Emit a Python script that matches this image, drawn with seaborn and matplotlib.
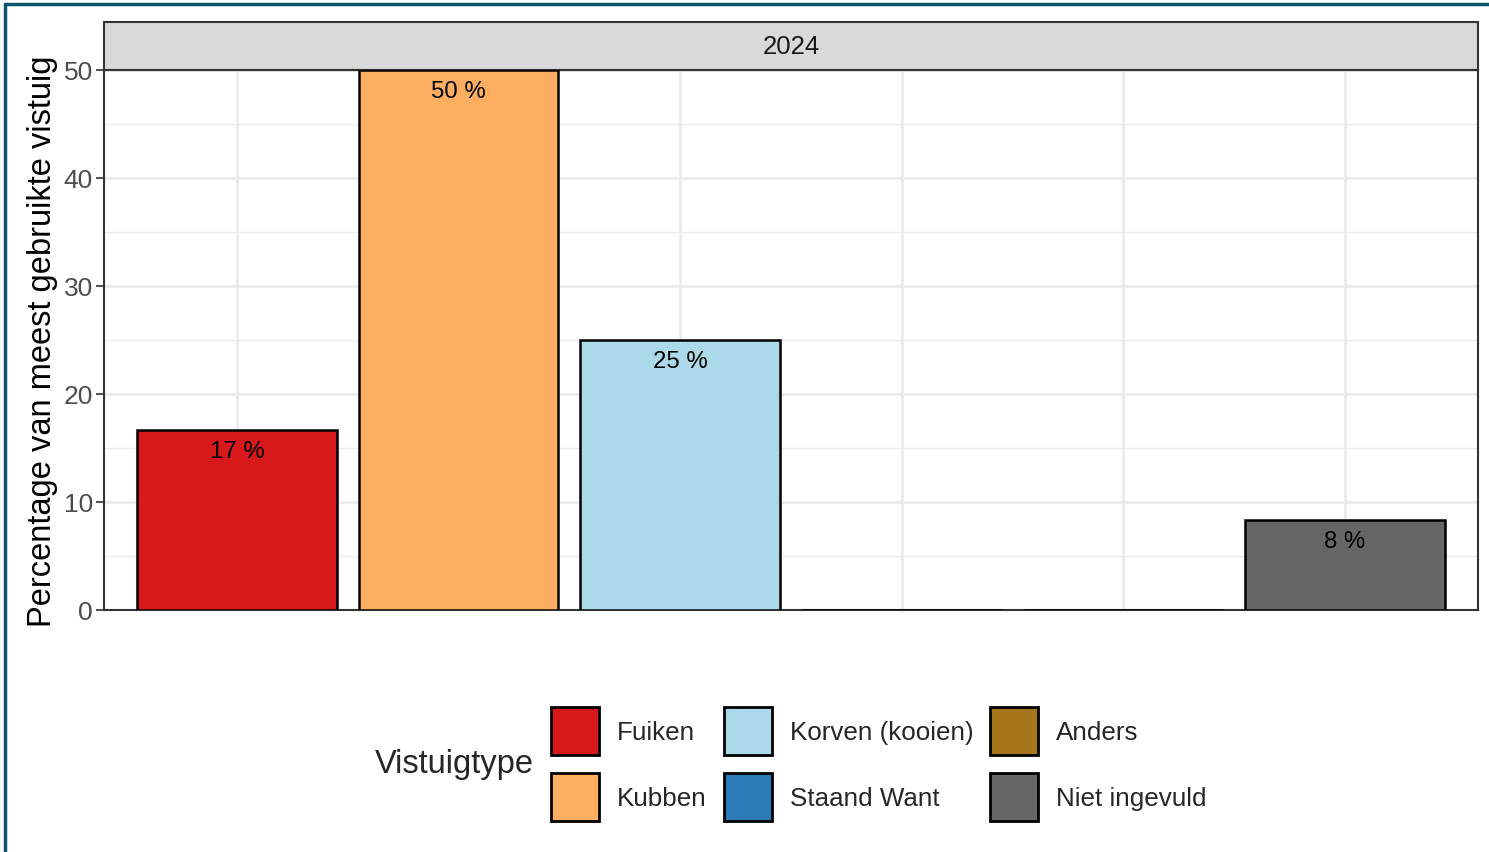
import pandas as pd
import matplotlib.pyplot as plt
import seaborn as sns
from matplotlib.patches import Patch, Rectangle
from matplotlib.lines import Line2D

# data
vistuig = ["Fuiken", "Kubben", "Korven (kooien)", "Staand Want", "Anders", "Niet ingevuld"]
percentage = [16.67, 50.0, 25.0, 0.0, 0.0, 8.33]
kleuren = ["#D7191C", "#FDAE61", "#ABD9E9", "#2C7BB6", "#A6761D", "#666666"]
jaar = "2024"

df = pd.DataFrame({"vistuig": vistuig, "pct": percentage})
df["vistuig"] = pd.Categorical(df["vistuig"], categories=vistuig, ordered=True)
palette = dict(zip(vistuig, kleuren))

sns.set_theme(style="white")
plt.rcParams["font.family"] = ["Liberation Sans", "DejaVu Sans"]

fig = plt.figure(figsize=(14.89, 8.53), dpi=100)
ax = fig.add_axes([104 / 1489, 1 - 611 / 853, (1478 - 104) / 1489, 540 / 853])

sns.barplot(data=df, x="vistuig", y="pct", hue="vistuig", palette=palette,
            order=vistuig, hue_order=vistuig, width=0.9, edgecolor="black",
            linewidth=1.8, saturation=1, legend=False, ax=ax, zorder=3)

ax.set_xlim(-0.6, len(vistuig) - 0.4)
ax.set_ylim(0, 50)
ax.set_yticks(range(0, 51, 10))
ax.set_yticks(range(5, 50, 10), minor=True)
ax.set_xticks(range(len(vistuig)))
ax.grid(True, which="major", color="#EBEBEB", linewidth=2, zorder=0)
ax.grid(True, which="minor", axis="y", color="#EBEBEB", linewidth=1, zorder=0)
ax.set_axisbelow(True)
ax.tick_params(axis="x", bottom=False, labelbottom=False)
ax.tick_params(axis="y", which="major", left=True, length=6, width=1.2, color="#333333",
               labelsize=19, labelcolor="#4D4D4D", pad=2)
ax.tick_params(axis="y", which="minor", left=False)
ax.set_xlabel("")
ax.set_ylabel("Percentage van meest gebruikte vistuig", fontsize=23.5, color="black", labelpad=4)
for s in ax.spines.values():
    s.set_color("#333333")
    s.set_linewidth(1.5)

# labels in de balken
for i, v in enumerate(percentage):
    if v > 0:
        ax.annotate(f"{v:.0f} %", (i, v), xytext=(0, -7), textcoords="offset points",
                    ha="center", va="top", fontsize=17.3, color="black", zorder=4)

# facet strip
ax.add_patch(Rectangle((0, 1), 1, 48 / 540, transform=ax.transAxes, clip_on=False,
                       facecolor="#D9D9D9", edgecolor="#333333", linewidth=1.5))
ax.text(0.5, 1 + 24 / 540, jaar, transform=ax.transAxes, ha="center", va="center",
        fontsize=18.5, color="#1A1A1A")

# legenda
handles = [Patch(facecolor=palette[v], edgecolor="black", linewidth=2) for v in vistuig]
fig.legend(handles, vistuig, ncol=3, loc="center left", bbox_to_anchor=(551 / 1489, 1 - 765 / 853),
           frameon=False, fontsize=18.7, handlelength=1.85, handleheight=2.46,
           handletextpad=0.69, columnspacing=0.65, labelspacing=0.73, borderpad=0,
           borderaxespad=0)
fig.text(375 / 1489, 1 - 765 / 853, "Vistuigtype", ha="left", va="center", fontsize=23.5)

# rand
fig.add_artist(Line2D([5 / 1489, 1], [1 - 5 / 853, 1 - 5 / 853], color="#0E5570", linewidth=2.5))
fig.add_artist(Line2D([5 / 1489, 5 / 1489], [0, 1 - 5 / 853], color="#0E5570", linewidth=2.5))

plt.savefig("out.png", dpi=100)
